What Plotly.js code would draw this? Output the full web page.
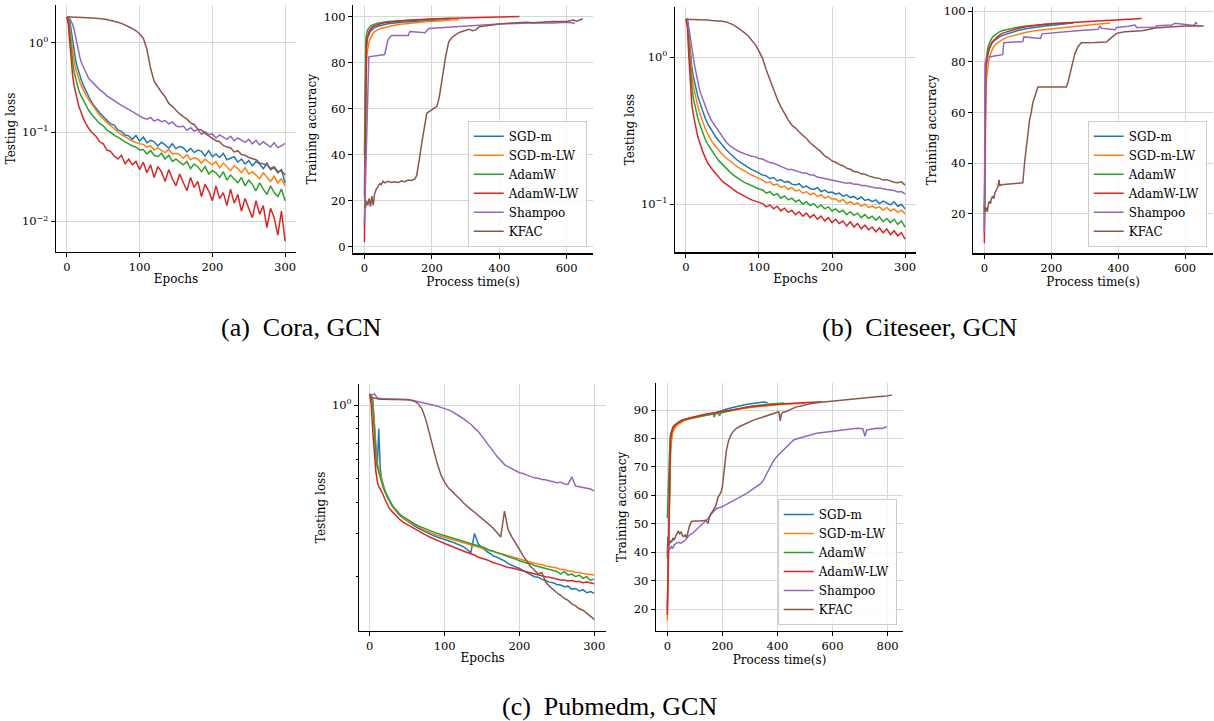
<!DOCTYPE html>
<html><head><meta charset="utf-8">
<script src="https://cdn.plot.ly/plotly-3.0.1.min.js"></script>
<style>html,body{margin:0;padding:0;background:#fff}#plot{width:1214px;height:721px}</style>
</head><body><div id="plot"></div>
<script>
// ---------- shared ----------
const names = ['SGD-m','SGD-m-LW','AdamW','AdamW-LW','Shampoo','KFAC'];
const colors = ['#1f77b4','#ff7f0e','#2ca02c','#d62728','#9467bd','#8c564b'];
const epochs = [0,2,4,6,8,10,12,14,16,18,20,23,26,30,35,40,45,50,55,60,65,70,75,80,85,90,95,100,105,110,115,120,125,130,135,140,145,150,155,160,165,170,175,180,185,190,195,200,205,210,215,220,225,230,235,240,245,250,255,260,265,270,275,280,285,290,295,300];

// ---------- (a) Cora loss ----------
const coraLossSGD = [1.95,1.92,1.75,1.35,1.0,0.78,0.64,0.55,0.48,0.42,0.38, 0.33,0.29,
 0.25,0.21,0.185,0.165,0.15,0.138,0.124,0.12,0.106,0.102,0.093,0.091,0.083,0.092,0.079,
 0.088,0.076,0.081,0.078,0.07,0.077,0.072,0.066,0.074,0.065,
 0.069,0.067,0.06,0.066,0.059,0.063,0.061,0.054,0.062,0.053,
 0.057,0.052,0.058,0.049,0.051,0.053,0.046,0.05,0.044,0.048,
 0.042,0.047,0.044,0.039,0.045,0.038,0.04,0.035,0.038,0.027];
const coraLossSGDLW = [1.95,1.85,1.5,1.1,0.8,0.62,0.52,0.45,0.4,0.36,0.33, 0.29,0.26,
 0.23,0.2,0.175,0.155,0.14,0.128,0.118,0.11,0.1,0.094,0.088,0.084,0.079,0.076,0.074,
 0.073,0.068,0.07,0.063,0.067,0.062,0.059,0.064,0.057,0.058,
 0.056,0.051,0.056,0.049,0.052,0.05,0.045,0.05,0.046,0.043,
 0.047,0.04,0.045,0.041,0.037,0.042,0.039,0.035,0.04,0.034,
 0.036,0.033,0.03,0.035,0.031,0.028,0.032,0.027,0.03,0.025];
const coraLossAdamW = [1.95,1.8,1.3,0.85,0.6,0.47,0.4,0.34,0.3,0.27,0.25, 0.22,0.2,
 0.175,0.155,0.14,0.125,0.118,0.105,0.1,0.092,0.088,0.082,0.078,0.074,0.07,0.068,0.063,
 0.064,0.057,0.062,0.055,0.053,0.058,0.05,0.055,0.047,0.05,
 0.046,0.043,0.047,0.039,0.044,0.041,0.036,0.041,0.034,0.037,
 0.035,0.031,0.036,0.029,0.033,0.03,0.027,0.031,0.025,0.029,
 0.026,0.022,0.027,0.023,0.02,0.025,0.021,0.019,0.023,0.017];
const coraLossAdamWLW = [1.95,1.6,1.0,0.6,0.42,0.33,0.27,0.23,0.2,0.18,0.16, 0.14,0.125,
 0.11,0.098,0.09,0.078,0.074,0.063,0.061,0.054,0.05,0.055,0.044,0.05,0.043,0.047,0.038,
 0.046,0.035,0.043,0.031,0.041,0.036,0.028,0.038,0.03,0.025,
 0.034,0.027,0.022,0.031,0.024,0.028,0.019,0.026,0.022,0.017,
 0.025,0.018,0.021,0.015,0.023,0.016,0.02,0.013,0.018,0.014,
 0.011,0.017,0.012,0.015,0.0085,0.014,0.011,0.007,0.013,0.006];
const coraLossShampoo = [1.95,1.95,1.9,1.75,1.6,1.4,1.15,0.95,0.8,0.68,0.6, 0.52,0.47,
 0.4,0.36,0.33,0.3,0.28,0.255,0.24,0.225,0.21,0.2,0.19,0.18,0.168,0.16,0.15,
 0.144,0.14,0.146,0.133,0.139,0.131,0.135,0.124,0.13,0.118,
 0.114,0.117,0.105,0.112,0.103,0.107,0.095,0.101,0.094,0.096,
 0.086,0.093,0.087,0.083,0.09,0.08,0.086,0.081,0.077,0.083,
 0.074,0.081,0.072,0.078,0.073,0.068,0.076,0.067,0.07,0.075];
const coraLossKFAC = [1.97,1.96,1.96,1.95,1.95,1.95,1.94,1.94,1.94,1.93,1.93, 1.93,1.92,
 1.92,1.91,1.9,1.89,1.86,1.83,1.8,1.76,1.71,1.66,1.6,1.52,1.45,1.37,1.26,
 1.13,0.85,0.52,0.37,0.32,0.28,0.25,0.21,0.195,0.175,
 0.16,0.149,0.14,0.127,0.122,0.108,0.106,0.097,0.091,0.086,
 0.08,0.078,0.071,0.068,0.067,0.06,0.062,0.056,0.055,0.052,
 0.05,0.049,0.045,0.044,0.043,0.039,0.041,0.036,0.037,0.033];

// ---------- (b) Citeseer loss ----------
const citeLossSGD = [1.81,1.78,1.45,1.05,0.86,0.74,0.66,0.6,0.55,0.51,0.47, 0.43,0.39,
 0.35,0.32,0.29,0.27,0.25,0.235,0.222,0.21,0.2,0.192,0.185,0.178,0.172,0.168,0.162,
 0.158,0.156,0.149,0.152,0.144,0.147,0.141,0.143,0.137,0.135,
 0.138,0.13,0.133,0.128,0.126,0.13,0.122,0.125,0.12,0.121,
 0.117,0.119,0.113,0.116,0.111,0.113,0.108,0.112,0.106,0.108,
 0.104,0.107,0.101,0.105,0.102,0.099,0.104,0.097,0.1,0.093];
const citeLossSGDLW = [1.81,1.75,1.35,0.95,0.76,0.64,0.57,0.51,0.47,0.43,0.4, 0.36,0.33,
 0.3,0.27,0.25,0.232,0.218,0.207,0.197,0.188,0.18,0.174,0.168,0.162,0.158,0.154,0.15,
 0.146,0.14,0.142,0.135,0.137,0.13,0.133,0.126,0.13,0.123,
 0.125,0.119,0.122,0.116,0.119,0.113,0.116,0.11,0.113,0.108,
 0.109,0.104,0.108,0.101,0.104,0.1,0.102,0.097,0.1,0.095,
 0.097,0.094,0.096,0.091,0.095,0.09,0.093,0.088,0.091,0.086];
const citeLossAdamW = [1.81,1.7,1.2,0.82,0.64,0.53,0.47,0.42,0.39,0.36,0.335, 0.305,0.28,
 0.255,0.232,0.214,0.198,0.186,0.175,0.166,0.158,0.151,0.146,0.141,0.137,0.133,0.13,0.127,
 0.125,0.119,0.122,0.115,0.118,0.11,0.114,0.107,0.11,0.104,
 0.107,0.1,0.104,0.098,0.101,0.095,0.099,0.093,0.096,0.09,
 0.093,0.088,0.091,0.085,0.089,0.084,0.087,0.081,0.085,0.08,
 0.083,0.078,0.082,0.076,0.08,0.075,0.079,0.073,0.077,0.07];
const citeLossAdamWLW = [1.81,1.6,1.0,0.65,0.48,0.41,0.36,0.32,0.29,0.27,0.25, 0.228,0.21,
 0.19,0.175,0.163,0.152,0.143,0.137,0.131,0.125,0.121,0.117,0.113,0.11,0.107,0.105,0.102,
 0.101,0.096,0.099,0.093,0.097,0.09,0.094,0.088,0.091,0.085,
 0.089,0.083,0.087,0.081,0.085,0.079,0.083,0.077,0.081,0.075,
 0.079,0.074,0.077,0.071,0.076,0.07,0.074,0.068,0.072,0.067,
 0.07,0.065,0.069,0.064,0.068,0.062,0.066,0.061,0.064,0.058];
const citeLossShampoo = [1.81,1.82,1.6,1.4,1.2,1.0,0.87,0.77,0.69,0.62,0.57, 0.52,0.47,
 0.42,0.37,0.34,0.31,0.285,0.265,0.25,0.24,0.232,0.226,0.22,0.216,0.212,0.21,0.205,
 0.203,0.197,0.192,0.19,0.185,0.18,0.177,0.172,0.172,0.168,
 0.166,0.163,0.163,0.158,0.158,0.153,0.151,0.149,0.148,0.145,
 0.144,0.142,0.141,0.139,0.14,0.137,0.137,0.134,0.134,0.132,
 0.131,0.129,0.129,0.127,0.126,0.125,0.124,0.121,0.122,0.117];
const citeLossKFAC = [1.82,1.81,1.81,1.81,1.81,1.81,1.8,1.8,1.8,1.8,1.8, 1.8,1.79,
 1.79,1.78,1.78,1.77,1.76,1.74,1.71,1.66,1.6,1.54,1.47,1.4,1.3,1.22,1.1,
 0.98,0.82,0.7,0.6,0.52,0.46,0.41,0.375,0.345,0.33,
 0.31,0.295,0.28,0.262,0.25,0.237,0.227,0.213,0.207,0.197,
 0.193,0.186,0.183,0.176,0.173,0.167,0.166,0.161,0.16,0.156,
 0.153,0.151,0.15,0.146,0.147,0.144,0.141,0.14,0.142,0.135];

// ---------- (c) Pubmed loss ----------
const pubLossSGD = [1.105,1.09,1.05,0.85,0.64,0.56,0.8,0.55,0.5,0.47,0.45, 0.43,0.41,
 0.39,0.37,0.355,0.345,0.336,0.328,0.321,0.315,0.309,0.304,0.299,0.294,0.29,0.287,0.284,
 0.28,0.277,0.273,0.269,0.265,0.258,0.25,0.3,0.272,0.262,
 0.255,0.249,0.243,0.24,0.236,0.232,0.226,0.222,0.219,0.216,
 0.212,0.208,0.205,0.2,0.199,0.195,0.193,0.19,0.189,0.186,
 0.185,0.182,0.183,0.178,0.179,0.175,0.177,0.172,0.174,0.171];
const pubLossSGDLW = [1.105,1.08,1.02,0.86,0.66,0.58,0.55,0.52,0.49,0.465,0.447, 0.425,0.407,
 0.388,0.37,0.357,0.347,0.338,0.331,0.324,0.318,0.313,0.308,0.303,0.299,0.295,0.292,0.289,
 0.286,0.283,0.28,0.278,0.275,0.272,0.27,0.267,0.264,0.262,
 0.259,0.256,0.253,0.25,0.248,0.245,0.243,0.24,0.238,0.235,
 0.233,0.231,0.229,0.227,0.225,0.224,0.221,0.22,0.218,0.217,
 0.214,0.214,0.211,0.211,0.208,0.208,0.206,0.205,0.204,0.203];
const pubLossAdamW = [1.105,1.08,1.0,0.8,0.62,0.56,0.53,0.5,0.48,0.46,0.445, 0.425,0.408,
 0.39,0.373,0.36,0.35,0.342,0.335,0.328,0.322,0.317,0.313,0.308,0.304,0.3,0.297,0.294,
 0.29,0.287,0.284,0.282,0.279,0.276,0.273,0.27,0.267,0.264,
 0.261,0.256,0.254,0.25,0.248,0.244,0.241,0.238,0.236,0.232,
 0.23,0.227,0.226,0.222,0.22,0.218,0.215,0.213,0.212,0.21,
 0.205,0.21,0.203,0.205,0.2,0.203,0.197,0.2,0.193,0.196];
const pubLossAdamWLW = [1.105,1.0,0.78,0.62,0.54,0.49,0.465,0.455,0.444,0.43,0.415, 0.395,0.38,
 0.368,0.353,0.342,0.333,0.326,0.319,0.312,0.306,0.3,0.295,0.29,0.285,0.281,0.277,0.273,
 0.269,0.266,0.262,0.258,0.255,0.251,0.248,0.245,0.24,0.238,
 0.235,0.232,0.228,0.226,0.223,0.221,0.218,0.217,0.215,0.214,
 0.212,0.21,0.207,0.206,0.203,0.201,0.2,0.199,0.197,0.195,
 0.194,0.194,0.192,0.193,0.191,0.191,0.189,0.19,0.188,0.187];
const pubLossShampoo = [1.105,1.1,1.1,1.11,1.09,1.07,1.065,1.06,1.06,1.06,1.06, 1.06,1.06,
 1.06,1.058,1.057,1.055,1.053,1.048,1.04,1.032,1.025,1.017,1.01,1.0,0.99,0.978,0.968,
 0.955,0.94,0.922,0.9,0.88,0.858,0.835,0.805,0.78,0.745,
 0.71,0.675,0.645,0.618,0.595,0.572,0.56,0.548,0.54,0.53,
 0.526,0.518,0.512,0.505,0.503,0.497,0.496,0.49,0.488,0.482,
 0.485,0.477,0.475,0.51,0.468,0.465,0.462,0.458,0.455,0.447];
const pubLossKFAC = [1.105,1.08,1.07,1.065,1.06,1.058,1.057,1.056,1.056,1.055,1.055, 1.055,1.055,
 1.055,1.054,1.053,1.052,1.05,1.045,1.035,1.01,0.96,0.87,0.76,0.66,0.58,0.52,0.485,
 0.46,0.443,0.43,0.415,0.4,0.386,0.376,0.366,0.356,0.346,
 0.335,0.325,0.315,0.303,0.29,0.37,0.31,0.29,0.275,0.258,
 0.243,0.232,0.22,0.213,0.205,0.208,0.19,0.183,0.177,0.172,
 0.168,0.163,0.16,0.155,0.152,0.148,0.146,0.142,0.138,0.134];

// ---------- (a) Cora accuracy vs time ----------
const coraAccT_SGD = [0,1,2,3,4,5,6,8,10,13,16,20,25,30,40,50,60,70,80,90,100,115,130,145,160,175,190,205,220,235,250];
const coraAcc_SGD = [22,45,62,74,81,85,87.5,89.5,91,92.3,93.2,94,94.7,95.2,95.8,96.3,96.5,96.9,97.1,97.1,97.4,97.6,97.6,97.9,98,98.1,98.1,98.3,98.4,98.4,98.6];
const coraAccT_SGDLW = [0,1,2,3,4,5,6,8,10,13,16,20,25,30,40,50,60,70,80,90,100,120,140,160,180,200,220,240,260,280];
const coraAcc_SGDLW = [8,25,45,60,70,76,80,84,86.5,88.5,90,91.5,92.6,93.3,94.3,94.9,95.3,95.7,96,96.2,96.5,96.9,97.2,97.4,97.7,97.9,98.1,98.3,98.5,98.7];
const coraAccT_AdamW = [0,1,2,3,4,5,6,8,10,13,16,20,25,30,40,50,60,70,80,90,100,120,140,160,180,200,220,240,255];
const coraAcc_AdamW = [40,62,78,86,89.5,91.3,92.5,93.6,94.3,95,95.5,96,96.4,96.7,97.1,97.4,97.6,97.8,97.9,98,98.1,98.3,98.5,98.6,98.7,98.8,98.9,99,99.1];
const coraAccT_AdamWLW = [0,1,2,3,4,5,6,8,10,13,16,20,25,30,40,50,60,70,80,90,100,120,140,160,180,200,230,260,290,320,350,380,410,440,460];
const coraAcc_AdamWLW = [2,15,42,65,78,84,87.5,90.5,92,93.3,94.2,95,95.6,96,96.6,97,97.3,97.5,97.7,97.9,98,98.3,98.5,98.7,98.8,98.9,99.1,99.3,99.4,99.5,99.6,99.7,99.8,99.9,100];
const coraAccT_Shampoo = [0,3,8,13,60,70,80,130,135,180,190,250,300,360,400,450,500,560,600,625];
const coraAcc_Shampoo = [10,28,60,82.5,83.5,90,91.8,91.8,93.5,93,94.8,95.4,95.8,96.6,96.8,97,97.3,97.2,97.5,97.1];
const coraAccT_KFAC = [0,3,6,10,14,18,22,26,30,35,40,45,50,55,60,70,80,90,100,110,120,130,140,150,155,160,165,170,175,180,185,195,205,215,222,228,235,240,245,250,260,270,280,290,300,310,320,330,340,360,380,400,420,450,480,500,530,560,600,620,630,648];
const coraAcc_KFAC = [18,17,20,18,21,17.5,22,18,23,25,26,27.5,27,28.5,27.8,28.5,28,28.3,28,28.6,28.3,29,28.8,29.5,31,35,40,45,50,55,58,59,60,61,65,70,77,82,86,89,91,92,93,93.5,94,94.5,93.8,94.2,95.5,96,96.3,96.8,97,97.3,97.5,97.3,97.6,97.8,97.8,98.5,98,99];

// ---------- (b) Citeseer accuracy vs time ----------
const citeAccT_SGD = [0,1,2,3,4,5,7,10,14,18,22,28,35,45,55,70,85,100,125,150,175,200,230,265];
const citeAcc_SGD = [15,40,60,70,75,78,80.5,82.8,84.8,86.2,87.2,88.2,89,89.8,90.4,91.1,91.7,92.3,93,93.6,94,94.4,94.9,95.3];
const citeAccT_SGDLW = [0,1,2,3,4,5,7,10,14,18,22,28,35,45,55,70,85,100,125,150,175,200,230,260,290,320,350,376];
const citeAcc_SGDLW = [12,30,48,58,64,68.5,74,78,81,83,84.5,86,87,88,88.8,89.7,90.3,90.9,91.6,92.2,92.6,92.9,93.3,93.8,94.2,94.6,95,95.3];
const citeAccT_AdamW = [0,1,2,3,4,5,7,10,14,18,22,28,35,45,55,70,85,100,125,150,175,200,230,266];
const citeAcc_AdamW = [20,45,65,74,78,80.5,83,85.3,87,88.3,89.3,90.2,91,91.8,92.3,92.8,93.2,93.6,94.1,94.5,94.8,95,95.2,95.4];
const citeAccT_AdamWLW = [0,1,2,3,4,5,7,10,14,18,22,28,35,45,55,70,85,100,125,150,175,200,230,260,290,320,350,380,410,440,470];
const citeAcc_AdamWLW = [8.5,35,60,70,75,78,81,83,85,86.5,87.5,88.5,89.5,90.5,91.3,92,92.6,93.1,93.8,94.3,94.7,95,95.3,95.6,95.8,96,96.2,96.4,96.6,96.8,97];
const citeAccT_Shampoo = [0,1,2,5,10,30,55,58,80,115,118,140,168,172,200,230,260,286,320,340,345,350,390,395,430,450,455,510,515,560,570,600,625,632,636];
const citeAcc_Shampoo = [13,50,79,81,81.7,82.3,82.8,87.5,87.6,88,89.8,89.5,89.2,91,91.4,91.8,92,92.3,92.6,92.8,94,93.2,92.6,93.5,94,94.5,93.5,93.6,94.2,94.5,95.2,94.8,94.3,95.5,94.7];
const citeAccT_KFAC = [0,3,6,9,12,15,18,21,25,28,32,36,40,44,46,50,70,90,115,120,125,130,135,140,145,150,160,200,245,250,255,262,270,280,290,330,365,375,385,395,420,450,470,490,510,540,570,600,630,655];
const citeAcc_KFAC = [23,21,22.5,20.8,24,25,24,26,27,26,28.5,29.5,30.5,33.5,31,31.5,31.8,32,32.3,40,46,50,57,60,64,66,70,70,70,72,75,79,83,86,87.5,87.6,87.8,89,90.3,91.2,91.8,92,92.2,92.7,93.3,93.6,94,94.1,94.2,94.1];

// ---------- (c) Pubmed accuracy vs time ----------
const pubAccT_SGD = [0,2,4,6,8,10,12,15,20,25,30,40,50,60,80,100,120,140,160,168,170,175,190,210,230,250,270,290,310,330,350,365];
const pubAcc_SGD = [20,30,45,60,70,75,79,81,83,84,84.6,85.3,86,86.4,87,87.5,88,88.4,88.8,88.9,87.5,89,89.6,90.2,90.7,91.2,91.6,92,92.3,92.6,92.8,92.6];
const pubAccT_SGDLW = [0,2,4,6,8,10,12,15,20,25,30,40,50,60,80,100,130,160,190,220,250,280,310,340,370,400,430,460,500];
const pubAcc_SGDLW = [16,25,38,52,63,70,75,79,82,83.2,84,85,85.7,86.2,86.8,87.3,87.9,88.5,89.1,89.6,90.1,90.6,91,91.3,91.6,91.9,92.1,92.3,92.4];
const pubAccT_AdamW = [0,2,4,6,8,10,12,15,20,25,30,40,50,60,80,100,130,160,185,190,195,220,250,280,310,340,370,400,425];
const pubAcc_AdamW = [52,58,65,72,77,80,81.5,82.5,83.8,84.5,85,85.6,86.2,86.5,87,87.5,88,88.5,88.9,88,89,89.6,90.3,90.9,91.4,91.8,92.1,92.3,92.5];
const pubAccT_AdamWLW = [0,2,4,6,8,10,12,15,20,25,30,40,50,60,80,100,130,160,190,220,250,280,310,340,370,400,430,460,490,520,560];
const pubAcc_AdamWLW = [18,30,45,60,71,77,80,82,83.8,84.5,85,85.7,86.3,86.7,87.2,87.7,88.3,88.9,89.4,89.9,90.4,90.8,91.2,91.5,91.8,92,92.2,92.4,92.6,92.8,92.9];
const pubAccT_Shampoo = [0,5,10,15,20,25,30,40,50,60,70,80,90,100,110,120,130,143,155,165,179,195,215,235,252,270,288,305,324,340,350,360,373,385,397,410,421,440,458,475,494,520,542,565,591,615,639,665,688,710,718,724,745,760,780,797];
const pubAcc_Shampoo = [40.5,41.8,41,42,41.3,42.5,43,43.5,43.2,43.8,44.8,46,46.5,47.5,48.5,49.5,50.2,51.3,53,54,55.4,55.8,56.8,57.8,58.9,59.8,60.7,61.8,63,64.2,65.5,67.5,70,72,73.6,74.8,75.9,77.8,79.4,80,80.6,81.2,81.8,82.1,82.4,82.8,83,83.3,83.6,83.4,80.8,83,83.3,83.6,83.5,84.1];
const pubAccT_KFAC = [0,2,5,8,12,16,20,25,30,35,40,45,50,55,60,65,70,75,80,88,100,120,140,148,155,165,175,185,195,200,205,210,215,222,230,240,250,264,280,300,320,340,360,385,405,410,414,420,433,450,470,490,518,550,579,610,640,670,700,730,760,790,815];
const pubAcc_KFAC = [38,45.5,44,42.8,44,43.5,45,44.2,45.5,46.8,47.5,46.5,47.2,45.8,45.5,46,45,47,49,50.8,51,51,51.2,50.2,53,54.5,56,59.5,61,63,67,72,76,79,81,82.5,83.5,84.3,85,86,86.7,87.3,88,88.8,89.4,86.2,88.5,89.2,89.5,90.3,91.1,91.5,92.2,92.6,92.9,93.2,93.4,93.8,94.1,94.3,94.7,94.8,95.3];

// ---------- traces ----------
const traces = [];
function addSet(xs, ys, xa, ya, legendId) {
  for (let i = 0; i < 6; i++) {
    traces.push({type:'scatter', mode:'lines', x: xs[i], y: ys[i], xaxis: xa, yaxis: ya,
      name: names[i], line:{color: colors[i], width:1.5},
      showlegend: !!legendId, legend: legendId || 'legend', hoverinfo:'skip'});
  }
}
const E6 = [epochs,epochs,epochs,epochs,epochs,epochs];
addSet(E6, [coraLossSGD,coraLossSGDLW,coraLossAdamW,coraLossAdamWLW,coraLossShampoo,coraLossKFAC], 'x', 'y', null);
addSet([coraAccT_SGD,coraAccT_SGDLW,coraAccT_AdamW,coraAccT_AdamWLW,coraAccT_Shampoo,coraAccT_KFAC],
       [coraAcc_SGD,coraAcc_SGDLW,coraAcc_AdamW,coraAcc_AdamWLW,coraAcc_Shampoo,coraAcc_KFAC], 'x2', 'y2', 'legend');
addSet(E6, [citeLossSGD,citeLossSGDLW,citeLossAdamW,citeLossAdamWLW,citeLossShampoo,citeLossKFAC], 'x3', 'y3', null);
addSet([citeAccT_SGD,citeAccT_SGDLW,citeAccT_AdamW,citeAccT_AdamWLW,citeAccT_Shampoo,citeAccT_KFAC],
       [citeAcc_SGD,citeAcc_SGDLW,citeAcc_AdamW,citeAcc_AdamWLW,citeAcc_Shampoo,citeAcc_KFAC], 'x4', 'y4', 'legend2');
addSet(E6, [pubLossSGD,pubLossSGDLW,pubLossAdamW,pubLossAdamWLW,pubLossShampoo,pubLossKFAC], 'x5', 'y5', null);
addSet([pubAccT_SGD,pubAccT_SGDLW,pubAccT_AdamW,pubAccT_AdamWLW,pubAccT_Shampoo,pubAccT_KFAC],
       [pubAcc_SGD,pubAcc_SGDLW,pubAcc_AdamW,pubAcc_AdamWLW,pubAcc_Shampoo,pubAcc_KFAC], 'x6', 'y6', 'legend3');

// ---------- layout ----------
const FF = 'DejaVu Serif';
const W = 1214, H = 721;
function px(a, b) { return [a / W, b / W]; }
function py(top, bottom) { return [1 - bottom / H, 1 - top / H]; }
function axis(o) {
  return Object.assign({
    showline:true, linecolor:'#000', linewidth:1.3, mirror:false,
    ticks:'outside', ticklen:4, tickwidth:1, tickcolor:'#000',
    showgrid:true, gridcolor:'#d3d9d9', gridwidth:1, zeroline:false,
    tickfont:{family:FF, size:11.5, color:'#000'}, fixedrange:true
  }, o);
}
function ttl(t, s) { return {text:t, font:{family:FF, size:12, color:'#000'}, standoff:s}; }
const legendBase = {bgcolor:'rgba(255,255,255,0.85)', bordercolor:'#cccccc', borderwidth:1,
  font:{family:FF, size:12, color:'#000'}, itemwidth:30, xanchor:'right', yanchor:'bottom', tracegroupgap:0};
const capFont = {family:'Liberation Serif', size:26, color:'#000'};

const layout = {
  width: W, height: H, margin:{l:0,r:0,t:0,b:0}, paper_bgcolor:'#fff', plot_bgcolor:'#fff',
  showlegend: true,
  xaxis: axis({domain:px(56,296), anchor:'y', range:[-15,315], tickvals:[0,100,200,300], title:ttl('Epochs',1)}),
  yaxis: axis({domain:py(5,252), anchor:'x', type:'log', range:[-2.344,0.426], tickvals:[0.01,0.1,1],
    ticktext:['10<sup>−2</sup>','10<sup>−1</sup>','10<sup>0</sup>'], title:ttl('Testing loss',3)}),
  xaxis2: axis({domain:px(353.3,593), anchor:'y2', range:[-33,678], tickvals:[0,200,400,600], title:ttl('Process time(s)',0)}),
  yaxis2: axis({domain:py(5,253.3), anchor:'x2', range:[-2.8,105], tickvals:[0,20,40,60,80,100], title:ttl('Training accuracy',4)}),
  xaxis3: axis({domain:px(675,916), anchor:'y3', range:[-15,315], tickvals:[0,100,200,300], title:ttl('Epochs',1)}),
  yaxis3: axis({domain:py(6.7,252.3), anchor:'x3', type:'log', range:[-1.327,0.344], tickvals:[0.1,1],
    ticktext:['10<sup>−1</sup>','10<sup>0</sup>'], title:ttl('Testing loss',3)}),
  xaxis4: axis({domain:px(973.3,1213), anchor:'y4', range:[-33,683], tickvals:[0,200,400,600], title:ttl('Process time(s)',0)}),
  yaxis4: axis({domain:py(6.7,253.3), anchor:'x4', range:[4.5,101.7], tickvals:[20,40,60,80,100], title:ttl('Training accuracy',4)}),
  xaxis5: axis({domain:px(359.3,606), anchor:'y5', range:[-14,315.7], tickvals:[0,100,200,300], title:ttl('Epochs',1)}),
  yaxis5: axis({domain:py(384,630.7), anchor:'x5', type:'log', range:[-0.919,0.0855], tickvals:[1],
    ticktext:['10<sup>0</sup>'], title:ttl('Testing loss',3),
    minor:{tickvals:[0.2,0.3,0.4,0.5,0.6,0.7,0.8,0.9], ticks:'outside', ticklen:2.5, tickcolor:'#000', showgrid:false}}),
  xaxis6: axis({domain:px(656,903), anchor:'y6', range:[-41,856], tickvals:[0,200,400,600,800], title:ttl('Process time(s)',0)}),
  yaxis6: axis({domain:py(383,630.7), anchor:'x6', range:[12.4,99.5], tickvals:[20,30,40,50,60,70,80,90], title:ttl('Training accuracy',4)}),
  legend: Object.assign({}, legendBase, {x:586.7/W, y:1-246.7/H}),
  legend2: Object.assign({}, legendBase, {x:1206.7/W, y:1-246.7/H}),
  legend3: Object.assign({}, legendBase, {x:896.7/W, y:1-625/H}),
  annotations: [
    {text:'(a)\u00A0\u00A0Cora, GCN', x:301/W, y:1-327/H, xref:'paper', yref:'paper', showarrow:false,
     xanchor:'center', yanchor:'middle', font:capFont},
    {text:'(b)\u00A0\u00A0Citeseer, GCN', x:920/W, y:1-327/H, xref:'paper', yref:'paper', showarrow:false,
     xanchor:'center', yanchor:'middle', font:capFont},
    {text:'(c)\u00A0\u00A0Pubmedm, GCN', x:609/W, y:1-706/H, xref:'paper', yref:'paper', showarrow:false,
     xanchor:'center', yanchor:'middle', font:capFont}
  ]
};
Plotly.newPlot('plot', traces, layout, {displayModeBar:false, staticPlot:true});
</script></body></html>
